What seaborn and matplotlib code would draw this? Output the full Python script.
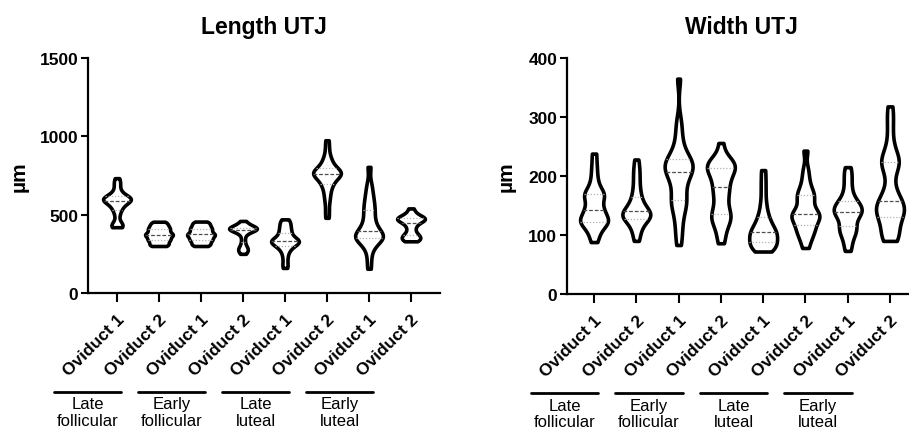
import numpy as np
import pandas as pd
import matplotlib.pyplot as plt
import seaborn as sns
from matplotlib.transforms import blended_transform_factory

# categories
phases = ["Late\nfollicular", "Early\nfollicular", "Late\nluteal", "Early\nluteal"]
oviducts = ["Oviduct 1", "Oviduct 2"]

# Length UTJ (um)
len_lf_ov1 = [420, 425, 430, 438, 460, 495, 520, 535, 550, 560, 570, 578, 584, 588, 592, 596,
              600, 603, 606, 610, 615, 622, 630, 645, 665, 690, 710, 733]
len_lf_ov2 = [300, 303, 308, 315, 322, 330, 335, 340, 345, 350, 356, 362, 367, 371, 373,
              377, 382, 388, 394, 400, 406, 410, 416, 422, 428, 435, 442, 450, 455]
len_ef_ov1 = [300, 304, 310, 316, 324, 331, 336, 341, 346, 351, 357, 363, 368, 370, 374,
              378, 383, 389, 395, 401, 407, 411, 417, 423, 430, 436, 444, 451, 456]
len_ef_ov2 = [250, 262, 272, 280, 288, 300, 320, 345, 370, 385, 393, 398, 402, 405, 407,
              409, 411, 413, 415, 417, 420, 424, 430, 438, 447, 460]
len_ll_ov1 = [160, 190, 225, 255, 275, 290, 300, 308, 315, 320, 325, 330, 334, 338, 343,
              350, 360, 372, 385, 398, 410, 425, 440, 455, 470]
len_ll_ov2 = [480, 530, 580, 615, 645, 670, 690, 705, 718, 730, 740, 748, 755, 760, 764,
              768, 773, 778, 785, 795, 805, 818, 835, 855, 880, 925, 975]
len_el_ov1 = [155, 220, 275, 305, 325, 338, 346, 352, 357, 362, 368, 375, 385, 398, 412,
              428, 448, 470, 495, 520, 540, 565, 590, 620, 655, 700, 805]
len_el_ov2 = [330, 336, 345, 352, 360, 368, 378, 395, 415, 432, 445, 455, 462, 467, 471,
              475, 479, 484, 490, 500, 515, 540]

# Width UTJ (um)
wid_lf_ov1 = [88, 98, 106, 112, 117, 120, 122, 124, 126, 128, 132, 137, 141, 144, 148,
              155, 162, 165, 168, 171, 175, 182, 192, 205, 220, 238]
wid_lf_ov2 = [90, 100, 108, 114, 119, 123, 126, 128, 130, 132, 134, 136, 138, 140, 142,
              145, 148, 152, 156, 162, 168, 176, 185, 195, 205, 215, 228]
wid_ef_ov1 = [83, 100, 115, 128, 140, 148, 153, 158, 165, 172, 180, 188, 195, 200, 204,
              208, 211, 214, 217, 220, 223, 226, 229, 233, 240, 250, 262, 278, 295, 365]
wid_ef_ov2 = [86, 100, 112, 120, 126, 130, 135, 140, 148, 156, 165, 172, 178, 185, 192,
              198, 203, 208, 212, 215, 218, 221, 224, 228, 235, 256]
wid_ll_ov1 = [72, 74, 77, 80, 83, 86, 89, 92, 95, 98, 101, 104, 106, 109, 113, 117, 122,
              128, 135, 145, 158, 175, 192, 210]
wid_ll_ov2 = [78, 90, 98, 104, 109, 113, 118, 124, 128, 131, 133, 135, 137, 140, 148, 155,
              162, 166, 170, 176, 185, 197, 212, 243]
wid_el_ov1 = [73, 85, 95, 102, 107, 111, 116, 122, 128, 133, 136, 138, 141, 144, 147, 150,
              153, 157, 162, 170, 180, 192, 203, 215]
wid_el_ov2 = [90, 92, 96, 102, 110, 118, 125, 130, 135, 139, 142, 145, 148, 151, 155, 160,
              166, 174, 185, 205, 214, 220, 224, 228, 233, 242, 258, 280, 300, 318]

length_groups = [len_lf_ov1, len_lf_ov2, len_ef_ov1, len_ef_ov2,
                 len_ll_ov1, len_ll_ov2, len_el_ov1, len_el_ov2]
width_groups = [wid_lf_ov1, wid_lf_ov2, wid_ef_ov1, wid_ef_ov2,
                wid_ll_ov1, wid_ll_ov2, wid_el_ov1, wid_el_ov2]

sns.set_style("ticks")
plt.rcParams['font.family'] = ['Liberation Sans', 'DejaVu Sans']
for k in ["text.color", "axes.labelcolor", "xtick.color", "ytick.color", "axes.edgecolor"]:
    plt.rcParams[k] = "black"


def draw(ax, groups, title, ymax, ystep, xlim, title_x):
    df = pd.DataFrame([(k, v) for k, vals in enumerate(groups) for v in vals],
                      columns=["grp", "um"])
    sns.violinplot(data=df, x="grp", y="um", ax=ax, cut=0, density_norm="width",
                   width=0.66, bw_adjust=0.5, inner="quart", color="white",
                   linecolor="black", linewidth=2.6,
                   inner_kws=dict(color="0.6", linewidth=0.9))
    # median darker dashed, quartiles light dotted
    for i, line in enumerate(ax.lines):
        if i % 3 == 1:
            line.set_color("0.3")
            line.set_dashes((3, 1.5))
        else:
            line.set_color("0.7")
            line.set_dashes((1, 1.5))

    ax.set_xlim(*xlim)
    ax.set_ylim(0, ymax)
    ax.set_yticks(np.arange(0, ymax + 1, ystep))
    ax.set_xticks(range(8))
    ax.set_xticklabels(oviducts * 4, rotation=45, ha="right",
                       rotation_mode="anchor", fontsize=12.5, fontweight="bold")
    for lab in ax.get_yticklabels():
        lab.set_fontsize(12.5)
        lab.set_fontweight("bold")
    ax.set_xlabel("")
    ax.set_ylabel("µm", fontsize=15, fontweight="bold")
    ax.set_title(title, fontsize=16.5, fontweight="bold", pad=18, x=title_x)
    sns.despine(ax=ax)
    for s in ["left", "bottom"]:
        ax.spines[s].set_linewidth(1.6)
    ax.tick_params(axis="y", width=1.5, length=5, pad=2)
    ax.tick_params(axis="x", width=1.5, length=6.5, pad=7)

    trans = blended_transform_factory(ax.transData, ax.transAxes)
    for g, name in enumerate(phases):
        c = 2 * g + 0.5 - 1.2
        ax.plot([c - 0.8, c + 0.8], [-0.42, -0.42], transform=trans,
                clip_on=False, color="black", lw=2)
        ax.text(c, -0.44, name, ha="center", va="top", fontsize=12,
                transform=trans, linespacing=1.12)


fig = plt.figure(figsize=(9.09, 4.35), dpi=100)
ax1 = fig.add_axes([88 / 909, 1 - 294 / 435, 352 / 909, 235 / 435])
ax2 = fig.add_axes([567 / 909, 1 - 295 / 435, 342 / 909, 236 / 435])

draw(ax1, length_groups, "Length UTJ", 1500, 500, (-0.69, 7.69), 0.5)
draw(ax2, width_groups, "Width UTJ", 400, 100, (-0.64, 7.45), 0.51)
ax1.yaxis.set_label_coords(-0.168, 0.5)
ax2.yaxis.set_label_coords(-0.15, 0.5)

fig.savefig("out.png", dpi=100)
